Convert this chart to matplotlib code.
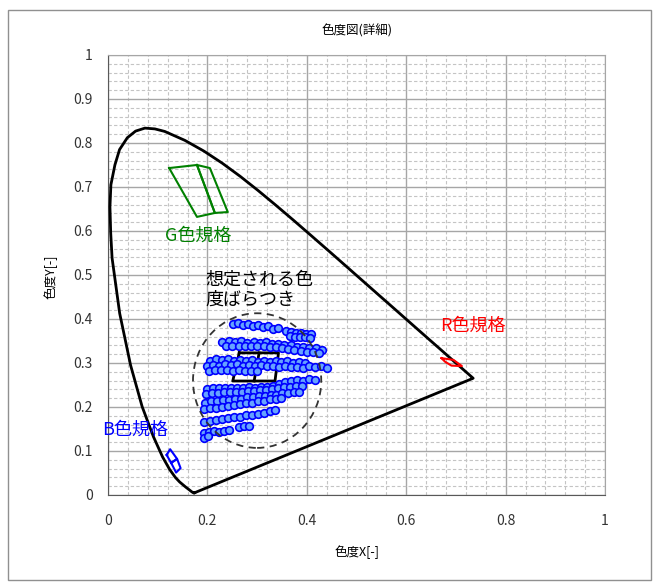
import matplotlib
matplotlib.use("Agg")
import matplotlib.pyplot as plt
from matplotlib.patches import Ellipse, Rectangle
from matplotlib.ticker import MultipleLocator

plt.rcParams['font.family'] = ['Noto Sans CJK JP', 'DejaVu Sans']

# CIE1931 スペクトル軌跡 (x, y)
LOCUS_X = [0.1741, 0.1733, 0.1714, 0.1689, 0.1644, 0.1566, 0.1440, 0.1355, 0.1241, 0.1096,
           0.0913, 0.0687, 0.0454, 0.0235, 0.0082, 0.0054, 0.0039, 0.0058, 0.0139, 0.0232,
           0.0389, 0.0555, 0.0743, 0.0943, 0.1142,
           0.1547, 0.1929, 0.2296, 0.2658, 0.3016, 0.3373, 0.3731, 0.4087, 0.4441, 0.4788,
           0.5125, 0.5448, 0.5752, 0.6029, 0.6270, 0.6482, 0.6658, 0.6915, 0.7079, 0.7190,
           0.7260, 0.7300, 0.7334, 0.7347, 0.1741]
LOCUS_Y = [0.0050, 0.0048, 0.0051, 0.0069, 0.0109, 0.0177, 0.0297, 0.0399, 0.0578, 0.0868,
           0.1327, 0.2007, 0.2950, 0.4127, 0.5384, 0.5960, 0.6548, 0.7050, 0.7502, 0.7850,
           0.8120, 0.8270, 0.8338, 0.8320, 0.8262,
           0.8059, 0.7816, 0.7543, 0.7243, 0.6923, 0.6589, 0.6245, 0.5896, 0.5547, 0.5202,
           0.4866, 0.4544, 0.4242, 0.3965, 0.3725, 0.3514, 0.3340, 0.3083, 0.2920, 0.2809,
           0.2740, 0.2700, 0.2666, 0.2653, 0.0050]

# 規格枠
G_LEFT = [(0.123, 0.743), (0.179, 0.750), (0.215, 0.641), (0.179, 0.632)]
G_RIGHT = [(0.179, 0.750), (0.205, 0.743), (0.241, 0.643), (0.215, 0.641)]
B_TOP = [(0.118, 0.091), (0.125, 0.104), (0.139, 0.082), (0.127, 0.073)]
B_BOTTOM = [(0.127, 0.073), (0.139, 0.082), (0.146, 0.061), (0.137, 0.051)]
R_SPEC = [(0.671, 0.311), (0.695, 0.307), (0.712, 0.293), (0.691, 0.294), (0.678, 0.303)]

# 中央の枠 (2x2)
W_OUTER = [(0.264, 0.323), (0.343, 0.323), (0.336, 0.259), (0.251, 0.259)]
W_HLINE = [(0.258, 0.291), (0.340, 0.291)]
W_VLINE = [(0.304, 0.323), (0.294, 0.259)]

# ばらつき楕円 (中心, 幅, 高さ)
SPREAD_CENTER = (0.300, 0.260)
SPREAD_W = 0.258
SPREAD_H = 0.306

# 測定点（行ごと）
ROWS = [
    ([0.252, 0.262, 0.272, 0.282, 0.292, 0.302, 0.312, 0.322, 0.332, 0.342],
     [0.388, 0.391, 0.386, 0.388, 0.384, 0.386, 0.381, 0.383, 0.378, 0.380]),
    ([0.358, 0.368, 0.378, 0.388, 0.398, 0.408, 0.366, 0.376, 0.386, 0.396, 0.406],
     [0.372, 0.371, 0.369, 0.368, 0.366, 0.365, 0.362, 0.360, 0.359, 0.358, 0.357]),
    ([0.230, 0.243, 0.255, 0.268, 0.280, 0.293, 0.305, 0.318, 0.330, 0.343, 0.355, 0.368, 0.380, 0.393, 0.405, 0.418, 0.430],
     [0.348, 0.350, 0.347, 0.349, 0.346, 0.348, 0.345, 0.347, 0.343, 0.344, 0.340, 0.341, 0.337, 0.337, 0.333, 0.334, 0.330]),
    ([0.238, 0.250, 0.263, 0.275, 0.288, 0.300, 0.313, 0.325, 0.338, 0.350, 0.363, 0.375, 0.388, 0.400, 0.413, 0.425],
     [0.338, 0.338, 0.339, 0.338, 0.339, 0.338, 0.338, 0.337, 0.336, 0.334, 0.331, 0.329, 0.327, 0.325, 0.324, 0.322]),
    ([0.205, 0.217, 0.229, 0.241, 0.253, 0.265, 0.277, 0.289, 0.301, 0.313, 0.325, 0.337, 0.349, 0.361, 0.373, 0.385, 0.397],
     [0.305, 0.309, 0.306, 0.308, 0.305, 0.307, 0.304, 0.306, 0.303, 0.305, 0.303, 0.305, 0.302, 0.304, 0.301, 0.302, 0.299]),
    ([0.200, 0.212, 0.224, 0.236, 0.248, 0.260, 0.272, 0.284, 0.296, 0.308, 0.320, 0.332, 0.344, 0.356, 0.368, 0.380, 0.392, 0.404, 0.416, 0.428, 0.440],
     [0.293, 0.296, 0.294, 0.297, 0.295, 0.297, 0.294, 0.296, 0.293, 0.295, 0.292, 0.294, 0.291, 0.292, 0.290, 0.291, 0.288, 0.293, 0.290, 0.292, 0.289]),
    ([0.203, 0.215, 0.227, 0.239, 0.251, 0.263, 0.275, 0.287, 0.299],
     [0.282, 0.284, 0.283, 0.285, 0.282, 0.283, 0.281, 0.282, 0.281]),
    ([0.200, 0.212, 0.224, 0.236, 0.248, 0.260, 0.272, 0.284, 0.296, 0.308, 0.320, 0.332, 0.344, 0.356, 0.368, 0.380, 0.392, 0.404, 0.416],
     [0.240, 0.243, 0.242, 0.244, 0.242, 0.244, 0.243, 0.245, 0.244, 0.246, 0.245, 0.247, 0.252, 0.257, 0.258, 0.261, 0.260, 0.263, 0.262]),
    ([0.198, 0.210, 0.222, 0.234, 0.246, 0.258, 0.270, 0.282, 0.294, 0.306, 0.318, 0.330, 0.342, 0.354, 0.366, 0.378, 0.390],
     [0.229, 0.231, 0.231, 0.233, 0.233, 0.235, 0.235, 0.237, 0.237, 0.239, 0.239, 0.241, 0.243, 0.245, 0.245, 0.247, 0.247]),
    ([0.195, 0.207, 0.219, 0.231, 0.243, 0.255, 0.267, 0.279, 0.291, 0.303, 0.315, 0.327, 0.339, 0.351, 0.363, 0.375, 0.385],
     [0.210, 0.213, 0.213, 0.216, 0.216, 0.219, 0.219, 0.222, 0.222, 0.225, 0.225, 0.228, 0.228, 0.231, 0.231, 0.234, 0.235]),
    ([0.193, 0.205, 0.217, 0.229, 0.241, 0.253, 0.265, 0.277, 0.289, 0.301, 0.313, 0.325, 0.337, 0.349],
     [0.195, 0.198, 0.198, 0.201, 0.202, 0.205, 0.206, 0.209, 0.210, 0.213, 0.214, 0.217, 0.218, 0.221]),
    ([0.193, 0.205, 0.217, 0.229, 0.241, 0.253, 0.265, 0.277, 0.289, 0.301, 0.313, 0.325, 0.335],
     [0.166, 0.169, 0.170, 0.173, 0.174, 0.177, 0.178, 0.181, 0.182, 0.185, 0.187, 0.190, 0.192]),
    ([0.193, 0.203, 0.213, 0.224, 0.234, 0.244, 0.264, 0.274, 0.284],
     [0.141, 0.143, 0.145, 0.143, 0.146, 0.147, 0.155, 0.156, 0.157]),
    ([0.193, 0.202],
     [0.130, 0.133]),
]


def draw_poly(ax, pts, color, lw=1.5):
    xs = [p[0] for p in pts] + [pts[0][0]]
    ys = [p[1] for p in pts] + [pts[0][1]]
    ax.plot(xs, ys, color=color, lw=lw, zorder=4)


fig = plt.figure(figsize=(6.59, 5.88), dpi=100)
ax = fig.add_axes([0.1639, 0.1582, 0.7542, 0.7483])

# 外枠
fig.patches.append(Rectangle((8 / 659, 1 - 580 / 588), 643 / 659, 570 / 588,
                             transform=fig.transFigure, fill=False,
                             edgecolor="#909090", lw=1))

ax.set_xlim(0, 1)
ax.set_ylim(0, 1)
ax.xaxis.set_major_locator(MultipleLocator(0.2))
ax.xaxis.set_minor_locator(MultipleLocator(0.04))
ax.yaxis.set_major_locator(MultipleLocator(0.1))
ax.yaxis.set_minor_locator(MultipleLocator(0.02))
ax.grid(which="major", color="#a6a6a6", lw=1.0)
ax.grid(which="minor", color="#c4c4c4", lw=0.8, ls=(0, (3, 2)))
ax.set_axisbelow(True)
ax.tick_params(which="both", length=0)
ax.tick_params(axis="x", pad=14, labelsize=10, labelcolor="#333333")
ax.tick_params(axis="y", pad=11, labelsize=10, labelcolor="#333333")
ax.xaxis.set_major_formatter(lambda v, p: "0" if abs(v) < 1e-9 else ("1" if abs(v - 1) < 1e-9 else f"{v:.1f}"))
ax.yaxis.set_major_formatter(lambda v, p: "0" if abs(v) < 1e-9 else ("1" if abs(v - 1) < 1e-9 else f"{v:.1f}"))
for s in ["top", "right"]:
    ax.spines[s].set_color("#a6a6a6")
for s in ["left", "bottom"]:
    ax.spines[s].set_color("#595959")

# スペクトル軌跡
ax.plot(LOCUS_X, LOCUS_Y, color="black", lw=2, zorder=3, solid_joinstyle="round")

# 規格
draw_poly(ax, G_LEFT, "#008000")
draw_poly(ax, G_RIGHT, "#008000")
draw_poly(ax, B_TOP, "#0000ff")
draw_poly(ax, B_BOTTOM, "#0000ff")
draw_poly(ax, R_SPEC, "#ff0000")

# 中央の白色枠
draw_poly(ax, W_OUTER, "black", lw=2)
ax.plot([p[0] for p in W_HLINE], [p[1] for p in W_HLINE], color="black", lw=2, zorder=4)
ax.plot([p[0] for p in W_VLINE], [p[1] for p in W_VLINE], color="black", lw=2, zorder=4)

# 測定点
for xs, ys in ROWS:
    ax.plot(xs, ys, ls="none", marker="o", ms=5.5, mfc="#66a3ff", mec="#0000ff",
            mew=1.2, zorder=5)

# ばらつき範囲
ax.add_patch(Ellipse(SPREAD_CENTER, SPREAD_W, SPREAD_H, fill=False,
                     edgecolor="#333333", lw=1.3, ls=(0, (4, 3)), zorder=6))

# 注記
ax.text(0.115, 0.589, "G色規格", color="#008000", fontsize=13, va="center", ha="left")
ax.text(0.195, 0.466, "想定される色\n度ばらつき", color="black", fontsize=13,
        va="center", ha="left", linespacing=1.15)
ax.text(0.668, 0.384, "R色規格", color="#ff0000", fontsize=13, va="center", ha="left")
ax.text(-0.012, 0.148, "B色規格", color="#0000ff", fontsize=13, va="center", ha="left")

fig.text(357 / 659, 1 - 31 / 588, "色度図(詳細)", ha="center", va="center", fontsize=9)
fig.text(357 / 659, 1 - 552 / 588, "色度X[-]", ha="center", va="center", fontsize=9)
fig.text(51 / 659, 1 - 277 / 588, "色度Y[-]", ha="center", va="center", fontsize=9,
         rotation=90)

fig.savefig("out.png", dpi=100)
